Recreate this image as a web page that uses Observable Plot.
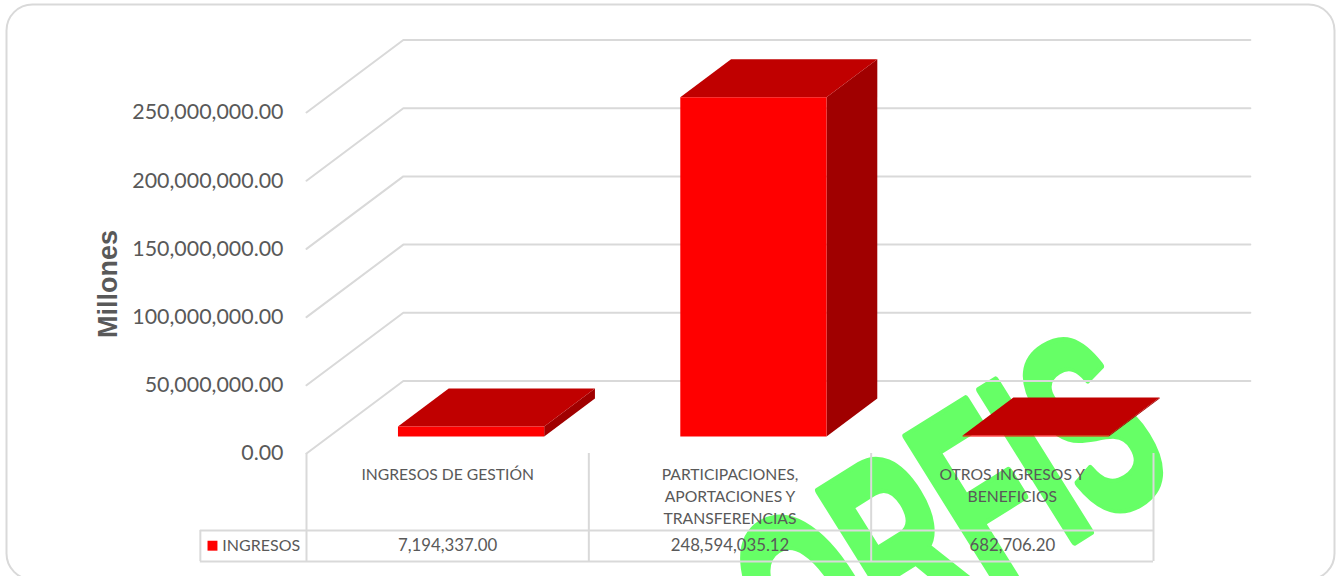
<!DOCTYPE html>
<html>
<head>
<meta charset="utf-8">
<script src="https://cdn.jsdelivr.net/npm/d3@7"></script>
<script src="https://cdn.jsdelivr.net/npm/@observablehq/plot@0.6"></script>
<style>
html,body{margin:0;padding:0;background:#fff;overflow:hidden}
svg{display:block}
</style>
</head>
<body>
<div id="chart"></div>
<script>
const categories = ["INGRESOS DE GESTIÓN", "PARTICIPACIONES,\nAPORTACIONES Y\nTRANSFERENCIAS", "OTROS INGRESOS Y\nBENEFICIOS"];
const values = [7194337.00, 248594035.12, 682706.20];
const seriesName = "INGRESOS";
const yTicks = [0, 50000000, 100000000, 150000000, 200000000, 250000000];
const axisTitle = "Millones";
const watermark = "ORFIS";

// oblique projection: depth 0 = front plane, depth 1 = back wall (in axis units)
const depthX = 0.343, depthY = 53.15e6;
const project = (u, v, d) => ({x: u + d * depthX, y: v + d * depthY});
const barD0 = 0.236, barD1 = 0.76, barU0 = 0.243, barU1 = 0.761;
const nCat = categories.length;

const grid = yTicks.flatMap(t => [project(0,t,0), project(0,t,1), project(nCat,t,1)].map(p => ({...p, t})));
const frontFaces = [], sideFaces = [], topFaces = [];
values.forEach((v, i) => {
  const a = i + barU0, b = i + barU1, name = categories[i];
  [[a,0,barD0],[b,0,barD0],[b,v,barD0],[a,v,barD0],[a,0,barD0]].forEach(q => frontFaces.push({...project(...q), name}));
  [[b,0,barD0],[b,0,barD1],[b,v,barD1],[b,v,barD0],[b,0,barD0]].forEach(q => sideFaces.push({...project(...q), name}));
  [[a,v,barD0],[b,v,barD0],[b,v,barD1],[a,v,barD1],[a,v,barD0]].forEach(q => topFaces.push({...project(...q), name}));
});

// data-table rows, in axis units below the zero line
const rowTop = -56.5e6, rowBottom = -79.2e6, rowMid = -67.6e6, labelTop = -7.8e6, legendLeft = -0.376;

const chart = Plot.plot({
  width: 1341, height: 576,
  marginLeft: 0, marginRight: 0, marginTop: 0, marginBottom: 0,
  x: {domain: [0, nCat], range: [306, 1153], axis: null},
  y: {domain: [0, 250e6], range: [453, 112], axis: null},
  style: {background: "#fff", fontFamily: "Lato", color: "#595959"},
  marks: [
    Plot.frame({stroke: "#d9d9d9", strokeWidth: 2, rx: 26, insetLeft: 6, insetTop: 4, insetRight: 7, insetBottom: -3}),
    Plot.text([watermark], {
      x: [2.283], y: [-49.4e6], text: d => d, rotate: -32,
      fontFamily: "Liberation Sans", fontWeight: "bold", fontSize: 230, fill: "#66ff66",
      stroke: "#66ff66", strokeWidth: 8,
      render(index, scales, vals, dims, ctx, next) {
        const g = next(index, scales, vals, dims, ctx);
        g.querySelectorAll("text").forEach(t => t.setAttribute("transform", t.getAttribute("transform") + " scale(0.62,1.12)"));
        return g;
      }
    }),
    Plot.line(grid, {x: "x", y: "y", z: "t", stroke: "#d9d9d9", strokeWidth: 2}),
    // table
    Plot.ruleX(d3.range(nCat + 1), {y1: 0, y2: rowBottom, stroke: "#d9d9d9", strokeWidth: 2}),
    Plot.ruleX([legendLeft], {y1: rowTop, y2: rowBottom, stroke: "#d9d9d9", strokeWidth: 2}),
    Plot.ruleY([rowTop, rowBottom], {x1: legendLeft, x2: nCat, stroke: "#d9d9d9", strokeWidth: 2}),
    // bars
    Plot.line(sideFaces, {x: "x", y: "y", z: "name", fill: "#a00000", stroke: "none"}),
    Plot.line(topFaces, {x: "x", y: "y", z: "name", fill: "#c00000", stroke: "none"}),
    Plot.line(frontFaces, {x: "x", y: "y", z: "name", fill: "#ff0000", stroke: "none"}),
    // axis
    Plot.axisY(yTicks, {anchor: "left", tickSize: 0, tickPadding: 0, dx: 283, dy: 0, label: null,
      tickFormat: d3.format(",.2f"), fontSize: 21.4, color: "#595959"}),
    Plot.text([axisTitle], {x: [-0.702], y: [124.3e6], text: d => d, rotate: -90,
      fontFamily: "Liberation Sans", fontWeight: "bold", fontSize: 27, fill: "#595959"}),
    // table text
    Plot.text(categories, {x: (d, i) => i + 0.5, y: [labelTop, labelTop, labelTop], text: d => d,
      lineAnchor: "top", lineHeight: 1.4, fontSize: 15.7, fill: "#595959"}),
    Plot.text(values, {x: (d, i) => i + 0.5, y: values.map(() => rowMid), text: d3.format(",.2f"),
      fontSize: 16.8, fill: "#595959"}),
    Plot.dot([seriesName], {x: [-0.333], y: [rowMid], symbol: "square", r: 5.6, fill: "#ff0000", stroke: "none"}),
    Plot.text([seriesName], {x: [-0.298], y: [rowMid], text: d => d, textAnchor: "start", fontSize: 16, fill: "#595959"})
  ]
});
document.getElementById("chart").append(chart);
</script>
</body>
</html>
